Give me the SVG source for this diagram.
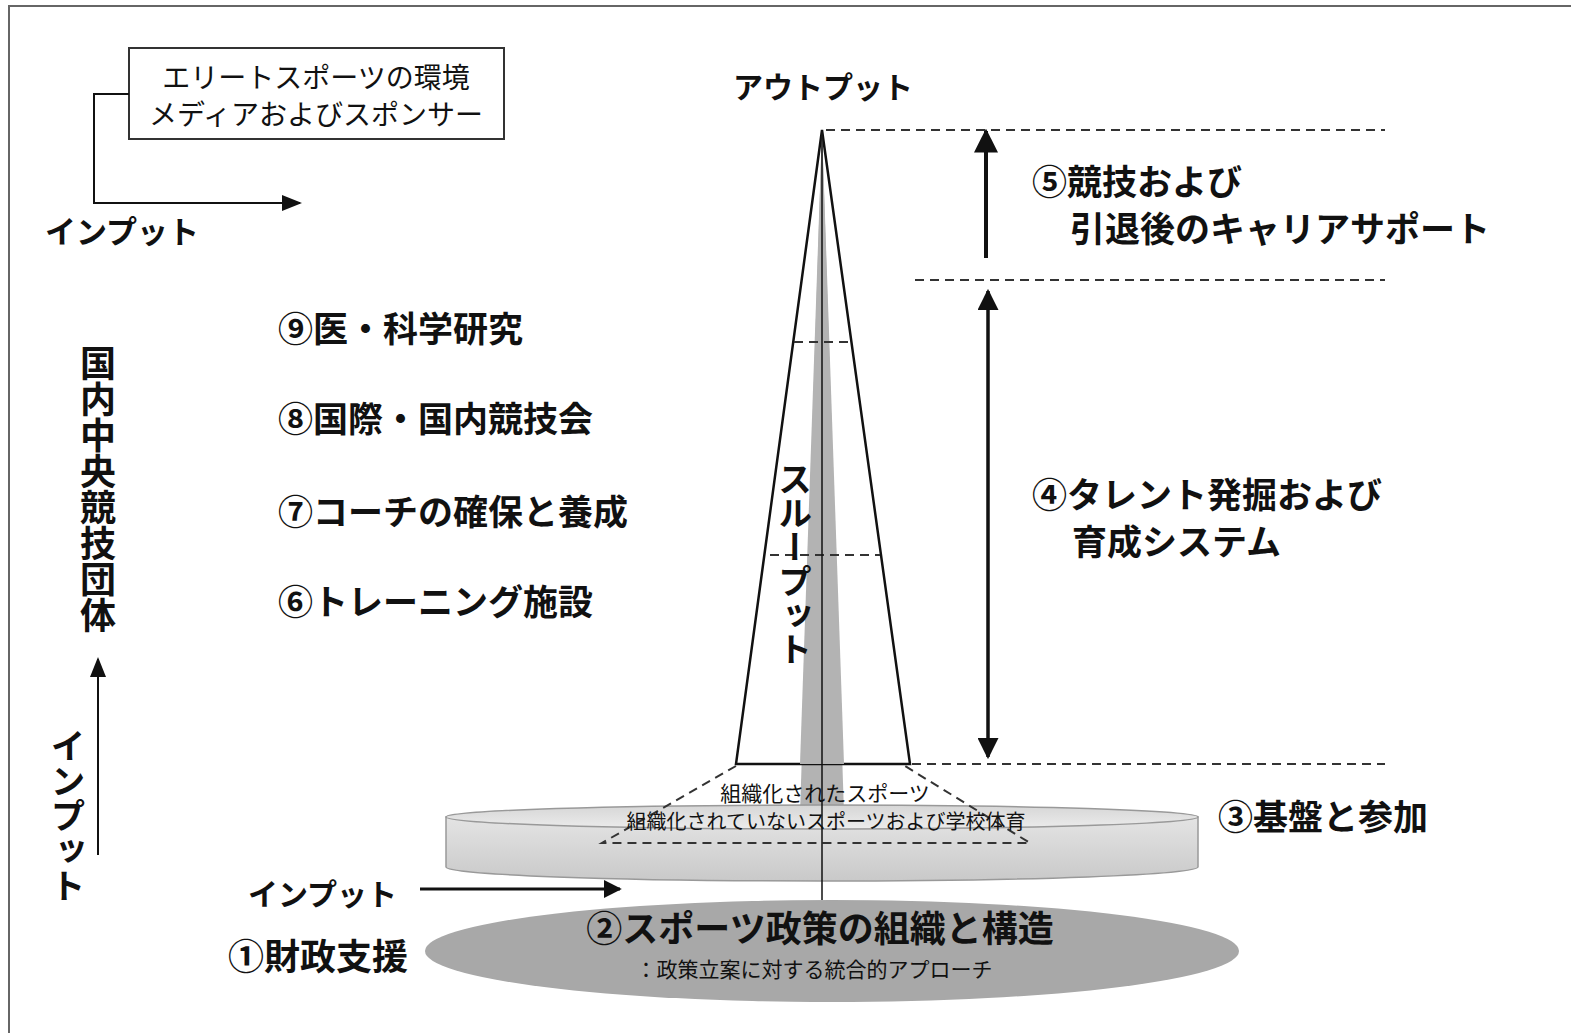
<svg xmlns="http://www.w3.org/2000/svg" width="1571" height="1033" viewBox="0 0 1571 1033">
<style>
text{font-family:"Noto Sans CJK JP","Noto Sans",sans-serif;fill:#111;font-weight:bold}
.l{font-size:35px}
.m{font-size:30px}
.s{font-size:21px;font-weight:normal}
.v{writing-mode:vertical-rl}
.ln{stroke:#111;fill:none}
.dash{stroke:#333;stroke-width:2;stroke-dasharray:9 6;fill:none}
</style>
<defs>
<marker id="ah" viewBox="0 0 10 10" refX="9" refY="5" markerWidth="6" markerHeight="6" orient="auto-start-reverse" markerUnits="strokeWidth">
<path d="M0,0 L10,5 L0,10 z" fill="#111"/>
</marker>
<marker id="ahs" viewBox="0 0 10 10" refX="9" refY="5" markerWidth="10" markerHeight="10" orient="auto-start-reverse" markerUnits="strokeWidth">
<path d="M0,1 L10,5 L0,9 z" fill="#111"/>
</marker>
<linearGradient id="disk" x1="0" y1="0" x2="0" y2="1">
<stop offset="0" stop-color="#e4e4e4"/>
<stop offset="1" stop-color="#c9c9c9"/>
</linearGradient>
<linearGradient id="disktop" x1="0" y1="0" x2="0" y2="1">
<stop offset="0" stop-color="#d6d6d6"/>
<stop offset="1" stop-color="#ececec"/>
</linearGradient>
</defs>
<rect width="1571" height="1033" fill="#fff"/>
<g id="frame">
<line x1="8" y1="6" x2="1571" y2="6" stroke="#666" stroke-width="2"/>
<line x1="9" y1="6" x2="9" y2="1033" stroke="#666" stroke-width="2"/>
</g>

<g id="base-ellipse">
<ellipse cx="832" cy="951" rx="407" ry="51" fill="#a8a8a8"/>
<text x="820" y="942" text-anchor="middle" style="font-size:36px">②スポーツ政策の組織と構造</text>
<text x="814" y="977" text-anchor="middle" class="s">：政策立案に対する統合的アプローチ</text>
</g>

<g id="beam">
<polygon points="822,130 844,814 800,814" fill="#b3b3b3"/>
</g>

<g id="disk-node">
<path d="M446,817 L446,867 A376,14 0 0 0 1198,867 L1198,817 Z" fill="url(#disk)" stroke="#999" stroke-width="1.5"/>
<ellipse cx="822" cy="817" rx="376" ry="12" fill="url(#disktop)" stroke="#999" stroke-width="1.5"/>
</g>

<g id="pyramid">
<polygon points="822,130 910,764 736,764" fill="none" stroke="#111" stroke-width="2.5"/>
<polygon points="822,130 844,764 800,764" fill="#b3b3b3"/>
<line x1="794" y1="342" x2="850" y2="342" class="dash"/>
<line x1="770" y1="555" x2="880" y2="555" class="dash"/>
<text x="795" y="462" class="v" style="font-size:34px">スループット</text>
</g>

<g id="foundation-trapezoid">
<path d="M736,766 L602,843 L1030,843 L905,766" class="dash"/>
<text x="825" y="801" text-anchor="middle" class="s" style="font-size:21px">組織化されたスポーツ</text>
<text x="826" y="829" text-anchor="middle" class="s" style="font-size:20px">組織化されていないスポーツおよび学校体育</text>
</g>

<g id="center-line">
<line x1="822" y1="130" x2="822" y2="900" stroke="#111" stroke-width="1.5"/>
</g>

<g id="env-box">
<rect x="129" y="48" width="375" height="91" fill="#fff" stroke="#333" stroke-width="2"/>
<text x="316" y="88" text-anchor="middle" style="font-size:28px;font-weight:normal">エリートスポーツの環境</text>
<text x="316" y="125" text-anchor="middle" style="font-size:28px;font-weight:normal">メディアおよびスポンサー</text>
</g>

<g id="labels">
<text x="45" y="243" class="m" style="font-size:31px">インプット</text>
<text x="733" y="98" class="m">アウトプット</text>
<text x="278" y="342" class="l">⑨医・科学研究</text>
<text x="278" y="432" class="l">⑧国際・国内競技会</text>
<text x="278" y="525" class="l">⑦コーチの確保と養成</text>
<text x="278" y="615" class="l">⑥トレーニング施設</text>
<text x="98" y="345" class="v" style="font-size:36px">国内中央競技団体</text>
<text x="68" y="728" class="v" style="font-size:35px">インプット</text>
<text x="248" y="905" class="m">インプット</text>
<text x="228" y="970" class="l" style="font-size:36px">①財政支援</text>
<text x="1032" y="195" class="l">⑤競技および</text>
<text x="1070" y="242" class="l">引退後のキャリアサポート</text>
<text x="1032" y="508" class="l">④タレント発掘および</text>
<text x="1072" y="555" class="l">育成システム</text>
<text x="1218" y="830" class="l">③基盤と参加</text>
</g>

<g id="connectors">
<polyline points="129,94 94,94 94,203 300,203" class="ln" stroke-width="2" marker-end="url(#ahs)"/>
<line x1="98" y1="855" x2="98" y2="659" class="ln" stroke-width="2" marker-end="url(#ahs)"/>
<line x1="420" y1="889" x2="620" y2="889" class="ln" stroke-width="3" marker-end="url(#ah)"/>
<line x1="986" y1="258" x2="986" y2="131" class="ln" stroke-width="4" marker-end="url(#ah)"/>
<line x1="988" y1="291" x2="988" y2="757" class="ln" stroke-width="3.5" marker-start="url(#ah)" marker-end="url(#ah)"/>
<line x1="826" y1="130" x2="1385" y2="130" class="dash"/>
<line x1="915" y1="280" x2="1385" y2="280" class="dash"/>
<line x1="912" y1="764" x2="1385" y2="764" class="dash"/>
</g>
</svg>
